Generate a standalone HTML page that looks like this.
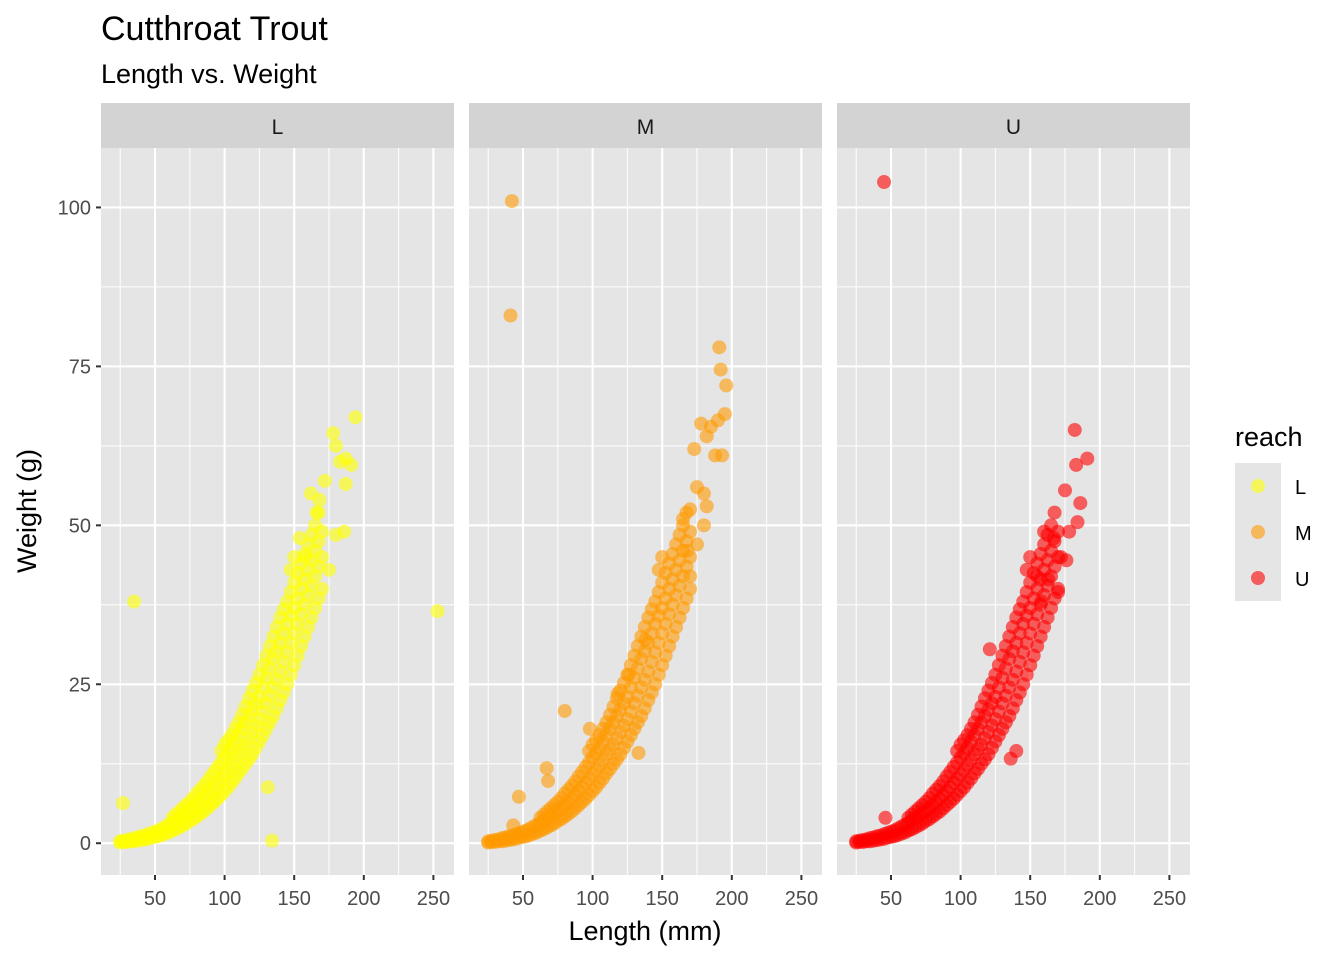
<!DOCTYPE html>
<html><head><meta charset="utf-8"><style>
body{margin:0;background:#fff;}
svg{display:block;font-family:"Liberation Sans",Arial,sans-serif;}
</style></head><body>
<svg id="chart" width="1344" height="960"></svg>
<script>
// ---- data ----
const panels = ["L","M","U"];
const colors = ["#FFFF00","#FF9900","#FF0000"];
const xTicks = [50,100,150,200,250];
const yTicks = [0,25,50,75,100];
const bandLen = [25,25,30,30,35,35,40,40,45,45,50,50,55,55,60,60,65,65,65,70,70,70,75,75,75,80,80,80,85,85,85,90,90,90,95,95,95,100,100,100,100,105,105,105,105,110,110,110,110,115,115,115,115,120,120,120,120,125,125,125,125,130,130,130,130,135,135,135,135,140,140,140,140,145,145,145,145,150,150,150,150,150,155,155,155,155,160,160,160,160,165,165,165,165,170,170,170];
const bandWt = [0.1,0.3,0.2,0.5,0.3,0.8,0.5,1.1,0.7,1.4,1.0,1.8,1.3,2.3,1.7,2.9,2.2,3.6,4.5,2.8,4.3,5.5,3.5,5.1,6.5,4.2,6.0,7.8,5.0,7.0,9.0,6.0,8.2,10.5,7.0,9.5,12,8.2,10.8,13.5,15.5,9.5,12.3,15,17,11,14,17,19,12.5,15.5,19,21.5,14,17.5,21,24,16,19.5,23,26.5,18,22,26,29.5,20,24.5,29,32.5,22.5,27,31.5,35.5,25,30,34.5,38,28,33,37,41,45,31,36,40,44,34,39,43,47,37,42,46,50,40,45,49];
const bandLen2 = [27.5,27.5,32.5,32.5,37.5,37.5,42.5,42.5,47.5,47.5,52.5,52.5,57.5,57.5,62.5,62.5,62.5,67.5,67.5,67.5,72.5,72.5,72.5,77.5,77.5,77.5,82.5,82.5,82.5,87.5,87.5,87.5,92.5,92.5,92.5,97.5,97.5,97.5,97.5,102.5,102.5,102.5,102.5,107.5,107.5,107.5,107.5,112.5,112.5,112.5,112.5,117.5,117.5,117.5,117.5,122.5,122.5,122.5,122.5,127.5,127.5,127.5,127.5,132.5,132.5,132.5,132.5,137.5,137.5,137.5,137.5,142.5,142.5,142.5,142.5,147.5,147.5,147.5,147.5,147.5,152.5,152.5,152.5,152.5,157.5,157.5,157.5,157.5,162.5,162.5,162.5,162.5,167.5,167.5,167.5,167.5];
const bandWt2 = [0.2,0.4,0.3,0.6,0.4,0.9,0.6,1.2,0.9,1.6,1.1,2.0,1.5,2.6,2.0,3.2,4.0,2.5,3.9,5.0,3.1,4.7,6.0,3.8,5.5,7.1,4.6,6.5,8.4,5.5,7.6,9.7,6.5,8.8,11.2,7.6,10.1,12.7,14.5,8.8,11.5,14.2,16.2,10.2,13.1,16,18,11.7,14.8,18,20.2,13.2,16.5,20,22.8,15,18.5,22,25.2,17,20.7,24.5,28,19,23.2,27.5,31,21.2,25.7,30.2,34,23.7,28.5,33,36.8,26.5,31.5,35.8,39.5,43,29.5,34.5,38.5,42.5,32.5,37.5,41.5,45.5,35.5,40.5,44.5,48.5,38.5,43.5,47.5,52];
const extraLenL = [27,35,131,134,178,180,183,187,187,191,194,253,180,186,175,172,168,166,162,158,154];
const extraWtL = [6.3,38,8.8,0.4,64.5,62.5,60,60.5,56.5,59.5,67,36.5,48.5,49,43,57,54,52,55,45,48];
const extraLenM = [42,41,80,98,67,68,47,43,133,118,126,138,191,192,196,195,190,185,182,178,188,193,180,182,175,173,170,175,180,170,165,168];
const extraWtM = [101,83,20.8,18,11.8,9.8,7.3,2.8,14.2,23.5,26.5,32,78,74.5,72,67.5,66.5,65.5,64,66,61,61,55,53,56,62,52.5,47,50,42,51,46];
const extraLenU = [45,46,121,140,136,182,191,183,186,184,175,178,172,176,170,160,167,163,158,155];
const extraWtU = [104,4,30.5,14.5,13.3,65,60.5,59.5,53.5,50.5,55.5,49,45,44.5,39.5,49,48,41.5,38,42];
const extraLen = [extraLenL, extraLenM, extraLenU];
const extraWt = [extraWtL, extraWtM, extraWtU];

// ---- layout ----
const NS="http://www.w3.org/2000/svg";
const svg=document.getElementById('chart');
const panelX=[101,469,837], panelW=353, plotTop=148, plotBot=875;
const xmin=11.2, xmax=264.8, ymin=-5.0, ymax=109.35;
function xs(p,v){return panelX[p]+(v-xmin)/(xmax-xmin)*panelW;}
function ys(v){return plotBot-(v-ymin)/(ymax-ymin)*(plotBot-plotTop);}
function el(tag,attrs,parent){const e=document.createElementNS(NS,tag);for(const k in attrs)e.setAttribute(k,attrs[k]);(parent||svg).appendChild(e);return e;}
function txt(s,attrs,name){const t=el('text',attrs);t.textContent=s;


return t;}

txt("Cutthroat Trout",{x:101,y:40,'font-size':34,fill:'#000'},'chart-title');
txt("Length vs. Weight",{x:101,y:83,'font-size':27,fill:'#000'},'chart-subtitle');

panels.forEach((p,i)=>{
  const g=el('g',{});
  
  
  const strip=el('rect',{x:panelX[i],y:103,width:panelW,height:45,fill:'#D3D3D3'},g);
  
  
  const st=el('text',{x:panelX[i]+panelW/2,y:134,'font-size':21,'text-anchor':'middle',fill:'#1A1A1A'},g);st.textContent=p;
  
  
  el('rect',{x:panelX[i],y:plotTop,width:panelW,height:plotBot-plotTop,fill:'#E5E5E5'},g);
  for(let k=0;k<xTicks.length;k++){const v=xTicks[k]-25;
    el('line',{x1:xs(i,v),x2:xs(i,v),y1:plotTop,y2:plotBot,stroke:'#fff','stroke-width':1},g);}
  el('line',{x1:xs(i,xTicks[xTicks.length-1]+25),x2:xs(i,xTicks[xTicks.length-1]+25),y1:plotTop,y2:plotBot,stroke:'#fff','stroke-width':1},g);
  for(let k=0;k<yTicks.length-1;k++){const v=(yTicks[k]+yTicks[k+1])/2;
    el('line',{x1:panelX[i],x2:panelX[i]+panelW,y1:ys(v),y2:ys(v),stroke:'#fff','stroke-width':1},g);}
  xTicks.forEach(v=>{el('line',{x1:xs(i,v),x2:xs(i,v),y1:plotTop,y2:plotBot,stroke:'#fff','stroke-width':2.1},g);
    el('line',{x1:xs(i,v),x2:xs(i,v),y1:plotBot,y2:plotBot+5,stroke:'#333','stroke-width':2},g);
    const t=el('text',{x:xs(i,v),y:plotBot+30,'font-size':20,'text-anchor':'middle',fill:'#4D4D4D'},g);t.textContent=v;
    
    });
  yTicks.forEach(v=>{el('line',{x1:panelX[i],x2:panelX[i]+panelW,y1:ys(v),y2:ys(v),stroke:'#fff','stroke-width':2.1},g);});
  const pts=el('g',{fill:colors[i],'fill-opacity':0.6},g);
  
  
  const L=bandLen.concat(bandLen2,extraLen[i]), W=bandWt.concat(bandWt2,extraWt[i]);
  for(let k=0;k<L.length;k++){
    const c=el('circle',{cx:xs(i,L[k]),cy:ys(W[k]),r:7},pts);
    
    
  }
});
yTicks.forEach(v=>{el('line',{x1:96,x2:101,y1:ys(v),y2:ys(v),stroke:'#333','stroke-width':2});
  txt(String(v),{x:91,y:ys(v)+7,'font-size':20,'text-anchor':'end',fill:'#4D4D4D'},'y-tick-label');});
txt("Length (mm)",{x:645,y:940,'font-size':27,'text-anchor':'middle',fill:'#000'},'x-axis-title');
txt("Weight (g)",{x:0,y:0,'font-size':27,'text-anchor':'middle',fill:'#000',transform:'translate(36,511) rotate(-90)'},'y-axis-title');
txt("reach",{x:1235,y:446,'font-size':27,fill:'#000'},'legend-title');
panels.forEach((p,i)=>{
  const y0=463+i*46;
  const r=el('rect',{x:1235,y:y0,width:46,height:46,fill:'#E5E5E5'});
  
  
  el('circle',{cx:1258,cy:y0+23,r:7,fill:colors[i],'fill-opacity':0.6});
  txt(p,{x:1295,y:y0+31,'font-size':20,fill:'#000'},'legend-entry-'+p);
});
</script>
</body></html>
